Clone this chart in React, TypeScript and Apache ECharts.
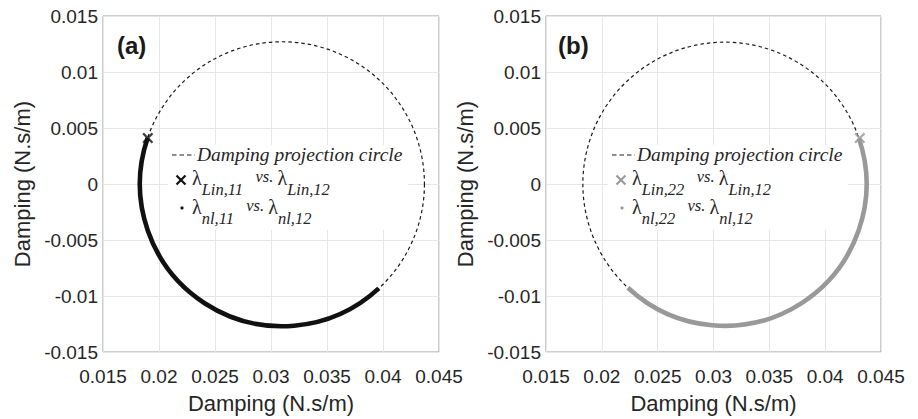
import React, { useEffect, useRef } from "react";
import * as echarts from "echarts";

// ---- axes (both panels) ----
const xTicks = [0.015, 0.02, 0.025, 0.03, 0.035, 0.04, 0.045];
const yTicks = [-0.015, -0.01, -0.005, 0, 0.005, 0.01, 0.015];
const tickStep = 0.005;
const axisTitle = "Damping (N.s/m)";
const panelLabels = ["(a)", "(b)"];

// ---- damping projection circle: [centre x, centre y, radius] ----
const projectionCircle = [0.031, 0.0, 0.0127];

// ---- panel (a) ----
const linPointA = [0.019, 0.0041]; // λLin,11 vs. λLin,12
// nonlinear trace λnl,11 vs. λnl,12 : [from point, to point] (clockwise on screen)
const nlTraceA = [
  [0.0396, -0.0093],
  [0.019, 0.0041],
];

// ---- panel (b) ----
const linPointB = [0.0431, 0.0041]; // λLin,22 vs. λLin,12
// nonlinear trace λnl,22 vs. λnl,12
const nlTraceB = [
  [0.0431, 0.0041],
  [0.0223, -0.0093],
];

const colorA = "#111111";
const colorB = "#999999";
const sans = "'Liberation Sans', Arial, sans-serif";
const serif = "'Liberation Serif', 'Times New Roman', serif";
const textColor = "#262626";

const crossPath =
  "path://M0,1.5L1.5,0L5,3.5L8.5,0L10,1.5L6.5,5L10,8.5L8.5,10L5,6.5L1.5,10L0,8.5L3.5,5Z";

function circleRender(params: any, api: any) {
  const c = api.coord([api.value(0), api.value(1)]);
  const s = api.size([api.value(2), api.value(2)]);
  return {
    type: "circle",
    shape: { cx: c[0], cy: c[1], r: s[0] },
    style: { fill: "none", stroke: "#1a1a1a", lineWidth: 1.2, lineDash: [3.5, 3] },
    silent: true,
  };
}

function makeArcRender(color: string) {
  return (params: any, api: any) => {
    const c = api.coord([api.value(0), api.value(1)]);
    const r = api.size([api.value(2), api.value(2)])[0];
    const p1 = api.coord([api.value(3), api.value(4)]);
    const p2 = api.coord([api.value(5), api.value(6)]);
    const a1 = Math.atan2(p1[1] - c[1], p1[0] - c[0]);
    let a2 = Math.atan2(p2[1] - c[1], p2[0] - c[0]);
    if (a2 < a1) a2 += Math.PI * 2;
    return {
      type: "arc",
      shape: { cx: c[0], cy: c[1], r, startAngle: a1, endAngle: a2, clockwise: true },
      style: { fill: "none", stroke: color, lineWidth: 4.6 },
      silent: true,
    };
  };
}

function legendGraphics(dx: number, color: string, row2: string, row3: string) {
  const rich = {
    g: { fontFamily: serif, fontSize: 20, lineHeight: 20, verticalAlign: "top", color: textColor },
    s: { fontFamily: serif, fontStyle: "italic", fontSize: 16.5, lineHeight: 42, verticalAlign: "middle", color: textColor },
    v: { fontFamily: serif, fontStyle: "italic", fontSize: 16.5, lineHeight: 20, verticalAlign: "top", color: textColor },
  };
  return [
    {
      type: "rect",
      z: 50,
      shape: { x: 168 + dx, y: 145, width: 240, height: 85 },
      style: { fill: "#ffffff" },
    },
    {
      type: "line",
      z: 51,
      shape: { x1: 172 + dx, y1: 155, x2: 195 + dx, y2: 155 },
      style: { stroke: "#1a1a1a", lineWidth: 1.2, lineDash: [4.5, 3] },
    },
    {
      type: "text",
      z: 51,
      x: 197 + dx,
      y: 154,
      style: {
        text: "Damping projection circle",
        fontFamily: serif,
        fontStyle: "italic",
        fontSize: 19.5,
        fill: textColor,
        verticalAlign: "middle",
      },
    },
    {
      type: "line",
      z: 51,
      shape: { x1: 176.5 + dx, y1: 175.5, x2: 185.5 + dx, y2: 184.5 },
      style: { stroke: color, lineWidth: 2.2 },
    },
    {
      type: "line",
      z: 51,
      shape: { x1: 185.5 + dx, y1: 175.5, x2: 176.5 + dx, y2: 184.5 },
      style: { stroke: color, lineWidth: 2.2 },
    },
    {
      type: "circle",
      z: 51,
      shape: { cx: 182 + dx, cy: 208, r: 1.6 },
      style: { fill: color },
    },
    {
      type: "text",
      z: 51,
      x: 192 + dx,
      y: 189,
      style: { text: row2, rich, verticalAlign: "middle", fill: textColor },
    },
    {
      type: "text",
      z: 51,
      x: 192 + dx,
      y: 218,
      style: { text: row3, rich, verticalAlign: "middle", fill: textColor },
    },
  ];
}

export default function App() {
  const ref = useRef<HTMLDivElement>(null);

  useEffect(() => {
    if (!ref.current) return;
    const chart = echarts.init(ref.current, null, { renderer: "svg" });

    const xAxisBase = {
      type: "value",
      min: xTicks[0],
      max: xTicks[xTicks.length - 1],
      interval: tickStep,
      name: axisTitle,
      nameLocation: "middle",
      nameGap: 40,
      nameTextStyle: { fontFamily: sans, fontSize: 22, color: textColor },
      axisLine: { show: false },
      axisTick: { show: false },
      axisLabel: { margin: 15, fontFamily: sans, fontSize: 19, color: textColor },
      splitLine: { show: true, lineStyle: { color: "#e6e6e6", width: 1 } },
    };
    const yAxisBase = {
      type: "value",
      min: yTicks[0],
      max: yTicks[yTicks.length - 1],
      interval: tickStep,
      name: axisTitle,
      nameLocation: "middle",
      nameGap: 70,
      nameTextStyle: { fontFamily: sans, fontSize: 22, color: textColor },
      axisLine: { show: false },
      axisTick: { show: false },
      axisLabel: { margin: 5, fontFamily: sans, fontSize: 19, color: textColor },
      splitLine: { show: true, lineStyle: { color: "#e6e6e6", width: 1 } },
    };

    const circleRow = [...projectionCircle];
    const option: any = {
      animation: false,
      backgroundColor: "#ffffff",
      grid: [
        { left: 103, top: 16, width: 336, height: 336, show: true, borderColor: "#9a9a9a", borderWidth: 1, backgroundColor: "transparent" },
        { left: 546, top: 16, width: 335, height: 336, show: true, borderColor: "#9a9a9a", borderWidth: 1, backgroundColor: "transparent" },
      ],
      xAxis: [
        { ...xAxisBase, gridIndex: 0 },
        { ...xAxisBase, gridIndex: 1 },
      ],
      yAxis: [
        { ...yAxisBase, gridIndex: 0 },
        { ...yAxisBase, gridIndex: 1 },
      ],
      series: [
        {
          type: "custom",
          name: "Damping projection circle",
          xAxisIndex: 0,
          yAxisIndex: 0,
          renderItem: circleRender,
          data: [circleRow],
          z: 2,
        },
        {
          type: "custom",
          name: "λnl,11 vs. λnl,12",
          xAxisIndex: 0,
          yAxisIndex: 0,
          renderItem: makeArcRender(colorA),
          data: [[...projectionCircle, ...nlTraceA[0], ...nlTraceA[1]]],
          z: 3,
        },
        {
          type: "scatter",
          name: "λLin,11 vs. λLin,12",
          xAxisIndex: 0,
          yAxisIndex: 0,
          symbol: crossPath,
          symbolSize: 11,
          itemStyle: { color: colorA },
          data: [linPointA],
          z: 4,
        },
        {
          type: "custom",
          name: "Damping projection circle",
          xAxisIndex: 1,
          yAxisIndex: 1,
          renderItem: circleRender,
          data: [circleRow],
          z: 2,
        },
        {
          type: "custom",
          name: "λnl,22 vs. λnl,12",
          xAxisIndex: 1,
          yAxisIndex: 1,
          renderItem: makeArcRender(colorB),
          data: [[...projectionCircle, ...nlTraceB[0], ...nlTraceB[1]]],
          z: 3,
        },
        {
          type: "scatter",
          name: "λLin,22 vs. λLin,12",
          xAxisIndex: 1,
          yAxisIndex: 1,
          symbol: crossPath,
          symbolSize: 11,
          itemStyle: { color: colorB },
          data: [linPointB],
          z: 4,
        },
      ],
      graphic: [
        {
          type: "text",
          x: 117,
          y: 45,
          style: { text: panelLabels[0], fontFamily: sans, fontWeight: "bold", fontSize: 24, fill: "#1a1a1a", verticalAlign: "middle" },
        },
        {
          type: "text",
          x: 558,
          y: 45,
          style: { text: panelLabels[1], fontFamily: sans, fontWeight: "bold", fontSize: 24, fill: "#1a1a1a", verticalAlign: "middle" },
        },
        ...legendGraphics(0, colorA, "{g|λ}{s|Lin,11}{v|   vs. }{g|λ}{s|Lin,12}", "{g|λ}{s|nl,11}{v|   vs. }{g|λ}{s|nl,12}"),
        ...legendGraphics(440, colorB, "{g|λ}{s|Lin,22}{v|   vs. }{g|λ}{s|Lin,12}", "{g|λ}{s|nl,22}{v|   vs. }{g|λ}{s|nl,12}"),
      ],
    };

    chart.setOption(option);
    return () => chart.dispose();
  }, []);

  return (
    <div
      ref={ref}
      style={{ position: "fixed", left: 0, top: 0, width: 918, height: 419, background: "#fff" }}
    />
  );
}
